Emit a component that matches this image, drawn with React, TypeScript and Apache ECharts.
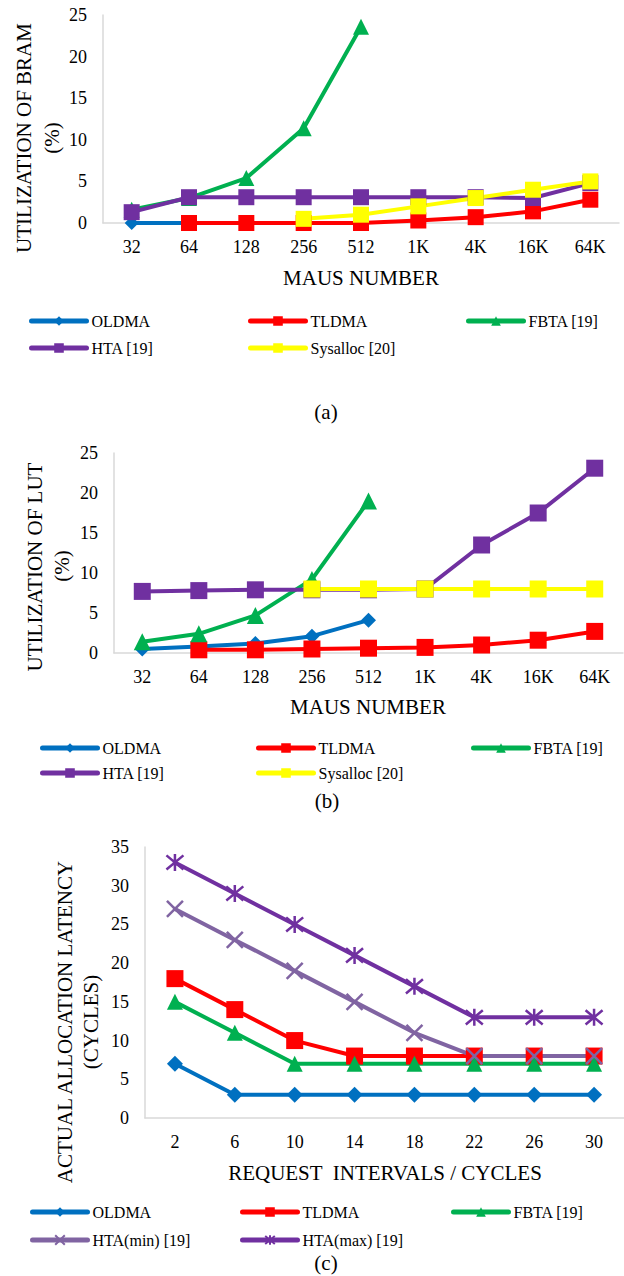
import React, { useEffect, useRef } from "react";
import * as echarts from "echarts";

const catsAB = ["32", "64", "128", "256", "512", "1K", "4K", "16K", "64K"];
const catsC = ["2", "6", "10", "14", "18", "22", "26", "30"];

// (a) BRAM utilization (%)
const bramOLDMA = [0, 0, 0, 0, 0, null, null, null, null];
const bramTLDMA = [null, 0, 0, 0, 0, 0.3, 0.7, 1.4, 2.8];
const bramFBTA = [1.6, 3, 5.4, 11.4, 23.6, null, null, null, null];
const bramHTA = [1.3, 3.1, 3.1, 3.1, 3.1, 3.1, 3.1, 3.0, 4.8];
const bramSys = [null, null, null, 0.5, 1.0, 2.0, 3.0, 4.0, 5.0];

// (b) LUT utilization (%)
const lutOLDMA = [0.5, 0.8, 1.2, 2.1, 4.1, null, null, null, null];
const lutTLDMA = [null, 0.4, 0.4, 0.5, 0.6, 0.7, 1.0, 1.6, 2.7];
const lutFBTA = [1.4, 2.4, 4.7, 9.2, 19.0, null, null, null, null];
const lutHTA = [7.7, 7.8, 7.9, 7.9, 7.9, 8.0, 13.5, 17.5, 23.1];
const lutSys = [null, null, null, 8, 8, 8, 8, 8, 8];

// (c) actual allocation latency (cycles)
const latOLDMA = [7, 3, 3, 3, 3, 3, 3, 3];
const latTLDMA = [18, 14, 10, 8, 8, 8, 8, 8];
const latFBTA = [15, 11, 7, 7, 7, 7, 7, 7];
const latHTAmin = [27, 23, 19, 15, 11, 8, 8, 8];
const latHTAmax = [33, 29, 25, 21, 17, 13, 13, 13];

const FONT = "Liberation Serif";
const BLUE = "#0070C0";
const RED = "#FF0000";
const GREEN = "#00B050";
const PURPLE = "#7030A0";
const YELLOW = "#FFFF00";
const LILAC = "#8064A2";
const AXIS = "#D9D9D9";

const X_SYM = "path://M0,0L10,10M10,0L0,10";
const STAR_SYM = "path://M0,0L10,10M10,0L0,10M5,-1L5,11";

function lineSeries(name: string, data: any[], color: string, symbol: string, size: number, idx: number, stroked = false) {
  return {
    type: "line",
    name,
    data,
    xAxisIndex: idx,
    yAxisIndex: idx,
    symbol,
    symbolSize: size,
    showSymbol: true,
    lineStyle: { color, width: 4, cap: "round", join: "round" },
    itemStyle: stroked
      ? { color: "rgba(0,0,0,0)", borderColor: color, borderWidth: 2.5 }
      : { color, borderWidth: 0 },
    emphasis: { disabled: true },
  };
}

function legendItem(name: string, left: number, cy: number) {
  return {
    data: [name],
    left,
    top: cy - 9,
    padding: 0,
    itemWidth: 55,
    itemHeight: 12,
    itemGap: 4,
    selectedMode: false,
    lineStyle: { width: 5, cap: "round" },
    textStyle: { fontFamily: FONT, fontSize: 16, color: "#000" },
  };
}

function txt(text: string, x: number, y: number, size: number, rotate = false) {
  return {
    type: "text",
    x,
    y,
    rotation: rotate ? Math.PI / 2 : 0,
    style: {
      text,
      fontFamily: FONT,
      fontSize: size,
      fill: "#000",
      align: "center",
      verticalAlign: "middle",
    },
  };
}

function xAxisDef(idx: number, cats: string[]) {
  return {
    type: "category",
    gridIndex: idx,
    data: cats,
    boundaryGap: true,
    axisTick: { show: false },
    axisLine: { show: true, lineStyle: { color: AXIS, width: 1.5 } },
    axisLabel: { margin: 15, fontFamily: FONT, fontSize: 18, color: "#000" },
    splitLine: { show: false },
  };
}

function yAxisDef(idx: number, max: number) {
  return {
    type: "value",
    gridIndex: idx,
    min: 0,
    max,
    interval: 5,
    axisTick: { show: false },
    axisLine: { show: true, lineStyle: { color: AXIS, width: 1.5 } },
    axisLabel: { margin: 16, fontFamily: FONT, fontSize: 18, color: "#000" },
    splitLine: { show: false },
  };
}

export default function App() {
  const ref = useRef<HTMLDivElement>(null);
  useEffect(() => {
    if (!ref.current) return;
    const chart = echarts.init(ref.current, null, { renderer: "svg" });
    chart.setOption({
      animation: false,
      backgroundColor: "#fff",
      textStyle: { fontFamily: FONT },
      grid: [
        { left: 103, top: 15, width: 516, height: 208 },
        { left: 114, top: 453, width: 509, height: 200 },
        { left: 145, top: 847, width: 479, height: 271 },
      ],
      xAxis: [xAxisDef(0, catsAB), xAxisDef(1, catsAB), xAxisDef(2, catsC)],
      yAxis: [yAxisDef(0, 25), yAxisDef(1, 25), yAxisDef(2, 35)],
      legend: [
        legendItem("OLDMA", 29, 322),
        legendItem("TLDMA", 248, 322),
        legendItem("FBTA [19]", 466, 322),
        legendItem("HTA [19]", 29, 349),
        legendItem("Sysalloc [20]", 248, 349),
        legendItem("OLDMA", 40, 749),
        legendItem("TLDMA", 256, 749),
        legendItem("FBTA [19]", 471, 749),
        legendItem("HTA [19]", 40, 774),
        legendItem("Sysalloc [20]", 256, 774),
        legendItem("OLDMA", 30, 1213),
        legendItem("TLDMA", 240, 1213),
        legendItem("FBTA [19]", 451, 1213),
        legendItem("HTA(min) [19]", 30, 1241),
        legendItem("HTA(max) [19]", 240, 1241),
      ],
      series: [
        lineSeries("OLDMA", bramOLDMA, BLUE, "diamond", 14, 0),
        lineSeries("TLDMA", bramTLDMA, RED, "rect", 16, 0),
        lineSeries("FBTA [19]", bramFBTA, GREEN, "triangle", 16, 0),
        lineSeries("HTA [19]", bramHTA, PURPLE, "rect", 16, 0),
        lineSeries("Sysalloc [20]", bramSys, YELLOW, "rect", 16, 0),

        lineSeries("OLDMA", lutOLDMA, BLUE, "diamond", 15, 1),
        lineSeries("TLDMA", lutTLDMA, RED, "rect", 17, 1),
        lineSeries("FBTA [19]", lutFBTA, GREEN, "triangle", 17, 1),
        lineSeries("HTA [19]", lutHTA, PURPLE, "rect", 17, 1),
        lineSeries("Sysalloc [20]", lutSys, YELLOW, "rect", 17, 1),

        lineSeries("OLDMA", latOLDMA, BLUE, "diamond", 16, 2),
        lineSeries("TLDMA", latTLDMA, RED, "rect", 17, 2),
        lineSeries("FBTA [19]", latFBTA, GREEN, "triangle", 16, 2),
        lineSeries("HTA(min) [19]", latHTAmin, LILAC, X_SYM, 16, 2, true),
        lineSeries("HTA(max) [19]", latHTAmax, PURPLE, STAR_SYM, 17, 2, true),
      ],
      graphic: [
        txt("UTILIZATION OF BRAM", 24, 138, 21, true),
        txt("(%)", 52, 138, 21, true),
        txt("MAUS NUMBER", 361, 278, 21),
        txt("(a)", 326, 412, 21),

        txt("UTILIZATION OF LUT", 35, 567, 21, true),
        txt("(%)", 62, 566, 21, true),
        txt("MAUS NUMBER", 368, 707, 21),
        txt("(b)", 327, 801, 21),

        txt("ACTUAL ALLOCATION LATENCY", 65, 1022, 21, true),
        txt("(CYCLES)", 91, 1022, 21, true),
        txt("REQUEST  INTERVALS / CYCLES", 385, 1173, 21),
        txt("(c)", 326, 1263, 21),
      ],
    });
    return () => chart.dispose();
  }, []);
  return (
    <div
      ref={ref}
      style={{ position: "absolute", left: 0, top: 0, width: 624, height: 1276, background: "#fff" }}
    />
  );
}
